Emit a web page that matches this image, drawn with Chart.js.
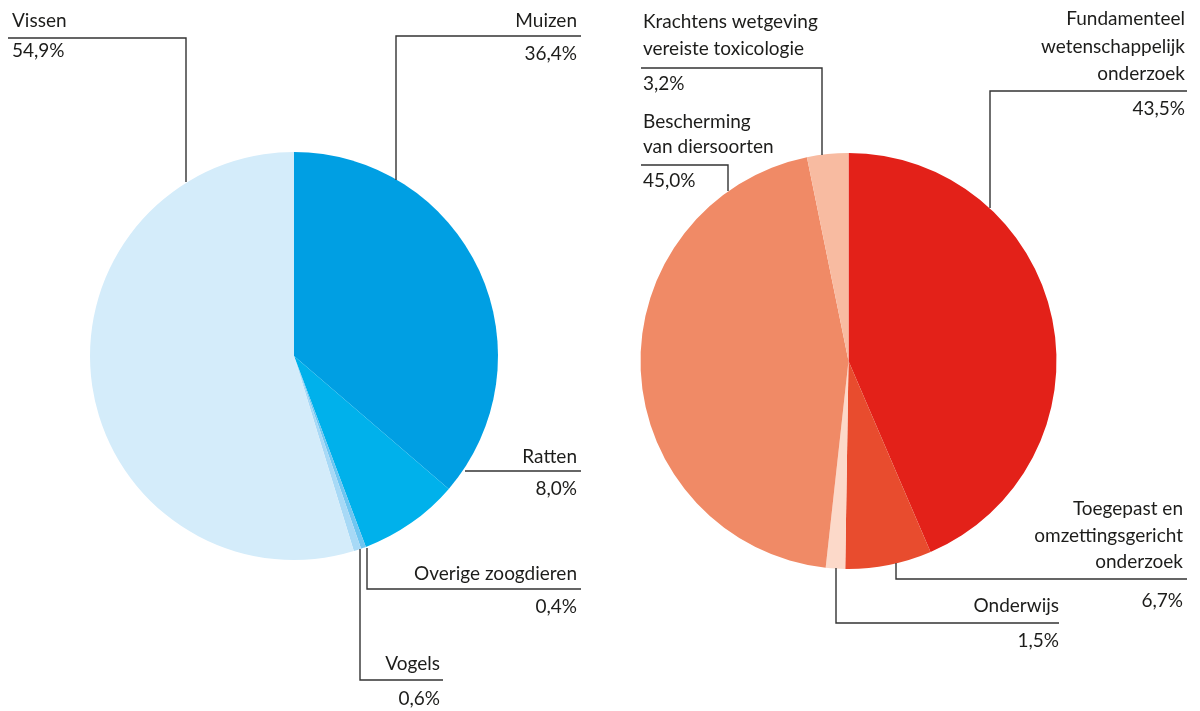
<!DOCTYPE html>
<html>
<head>
<meta charset="utf-8">
<script src="https://cdn.jsdelivr.net/npm/chart.js@4.4.1/dist/chart.umd.min.js"></script>
<style>
  html, body { margin: 0; padding: 0; background: #fff; }
  #wrap { position: relative; width: 1200px; height: 711px; }
  .half { position: absolute; top: 0; width: 600px; height: 711px; }
  #left { left: 0; }
  #right { left: 600px; }
</style>
</head>
<body>
<div id="wrap">
  <div class="half" id="left"><canvas id="dierChart"></canvas></div>
  <div class="half" id="right"><canvas id="doelChart"></canvas></div>
</div>
<script>
// Diersoorten (links)
const dierLabels = ['Muizen', 'Ratten', 'Overige zoogdieren', 'Vogels', 'Vissen'];
const dierValues = [36.4, 8.0, 0.4, 0.6, 54.9];
const dierColors = ['#009fe3', '#00b1eb', '#6fc6f1', '#a7d9f6', '#d4ecfa'];

// Doelen (rechts)
const doelLabels = [
    ['Fundamenteel', 'wetenschappelijk', 'onderzoek'],
    ['Toegepast en', 'omzettingsgericht', 'onderzoek'],
    ['Onderwijs'],
    ['Bescherming', 'van diersoorten'],
    ['Krachtens wetgeving', 'vereiste toxicologie']
];
const doelValues = [43.5, 6.7, 1.5, 45.0, 3.2];
const doelColors = ['#e32119', '#e84c2e', '#fcd9c9', '#f08a66', '#f8bba1'];

const FONT = '19px Lato, "Open Sans", sans-serif';
const TEXT_COLOR = '#1d1d1b';
const LINE_COLOR = '#333333';

function pct(v) {
    return v.toFixed(1).replace('.', ',') + '%';
}

// positie van labels en aanwijslijnen (lokale canvas-coördinaten)
const dierLeaders = [
    { align: 'right', x: 577, lines: [27], value: 60, path: [[396, 180], [396, 36], [581, 36]] },
    { align: 'right', x: 577, lines: [463], value: 495, path: [[465, 471], [581, 471]] },
    { align: 'right', x: 577, lines: [580], value: 613, path: [[367, 548], [367, 589], [581, 589]] },
    { align: 'right', x: 440, lines: [670], value: 705, path: [[360, 549], [360, 680], [443, 680]] },
    { align: 'left', x: 12, lines: [27], value: 57, path: [[8, 38], [186, 38], [186, 182]] }
];
const doelLeaders = [
    { align: 'right', x: 585, lines: [25, 53, 80], value: 115, path: [[390, 208], [390, 91], [587, 91]] },
    { align: 'right', x: 583, lines: [515, 542, 568], value: 607, path: [[296, 563], [296, 579], [587, 579]] },
    { align: 'right', x: 459, lines: [612], value: 647, path: [[236, 568], [236, 623], [459, 623]] },
    { align: 'left', x: 43, lines: [128, 153], value: 187, path: [[41, 165], [128, 165], [128, 191]] },
    { align: 'left', x: 43, lines: [28, 55], value: 90, path: [[41, 68], [222, 68], [222, 155]] }
];

// plugin voor labels met aanwijslijnen
const leaderPlugin = {
    id: 'leaders',
    afterDraw(chart, args, opts) {
        const ctx = chart.ctx;
        const labels = chart.data.labels;
        const values = chart.data.datasets[0].data;
        ctx.save();
        ctx.strokeStyle = LINE_COLOR;
        ctx.lineWidth = 1.4;
        ctx.fillStyle = TEXT_COLOR;
        ctx.font = FONT;
        ctx.textBaseline = 'alphabetic';
        opts.items.forEach((it, i) => {
            ctx.beginPath();
            it.path.forEach((p, j) => {
                if (j === 0) ctx.moveTo(p[0], p[1]);
                else ctx.lineTo(p[0], p[1]);
            });
            ctx.stroke();
            ctx.textAlign = it.align;
            const txt = Array.isArray(labels[i]) ? labels[i] : [labels[i]];
            txt.forEach((t, k) => ctx.fillText(t, it.x, it.lines[k]));
            ctx.fillText(pct(values[i]), it.x, it.value);
        });
        ctx.restore();
    }
};

function makePie(id, labels, values, colors, padding, items) {
    return new Chart(document.getElementById(id), {
        type: 'pie',
        data: {
            labels: labels,
            datasets: [{
                data: values,
                backgroundColor: colors,
                borderWidth: 0
            }]
        },
        options: {
            responsive: true,
            maintainAspectRatio: false,
            animation: false,
            layout: { padding: padding },
            plugins: {
                legend: { display: false },
                tooltip: { enabled: false },
                leaders: { items: items }
            }
        },
        plugins: [leaderPlugin]
    });
}

document.addEventListener('DOMContentLoaded', function() {
    makePie('dierChart', dierLabels, dierValues, dierColors,
        { left: 90, right: 102, top: 152, bottom: 151 }, dierLeaders);
    makePie('doelChart', doelLabels, doelValues, doelColors,
        { left: 40, right: 143, top: 153, bottom: 142 }, doelLeaders);
});
</script>
</body>
</html>
